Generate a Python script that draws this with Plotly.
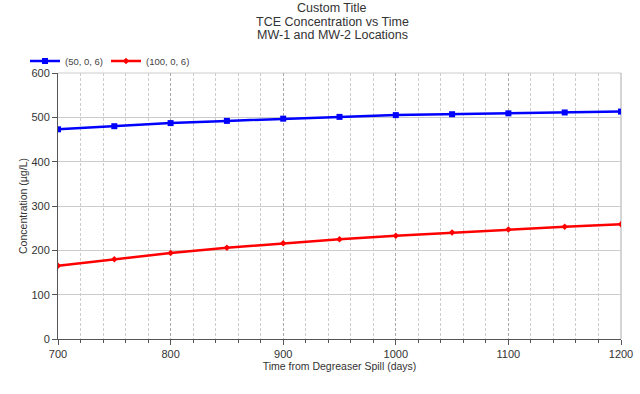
import plotly.graph_objects as go

time_days = [700, 750, 800, 850, 900, 950, 1000, 1050, 1100, 1150, 1200]
mw1_conc = [473, 480, 487, 492, 497, 501, 505, 507, 509, 511, 513]
mw2_conc = [165, 180, 194, 206, 216, 225, 233, 240, 247, 253, 259]
series_names = ["(50, 0, 6)", "(100, 0, 6)"]
x_ticks = [700, 800, 900, 1000, 1100, 1200]
y_ticks = [0, 100, 200, 300, 400, 500, 600]
title_lines = ["Custom Title", "TCE Concentration vs Time", "MW-1 and MW-2 Locations"]

W, H = 640, 394
ML, MR, MT, MB = 58, 19, 73, 55
PLOT_H = H - MT - MB
PLOT_W = W - ML - MR

fig = go.Figure()
fig.add_trace(go.Scatter(
    x=time_days, y=mw1_conc, name=series_names[0], mode="lines+markers",
    line=dict(color="#0000ff", width=2.5),
    marker=dict(symbol="square", size=6, color="#0000ff"), legend="legend"))
fig.add_trace(go.Scatter(
    x=time_days, y=mw2_conc, name=series_names[1], mode="lines+markers",
    line=dict(color="#ff0000", width=2.5),
    marker=dict(symbol="diamond", size=5, color="#ff0000"), legend="legend2"))

legend_common = dict(orientation="h", xanchor="left", yanchor="middle",
                     y=1 + (73 - 61) / PLOT_H,
                     font=dict(size=9.5, color="#444444"), itemwidth=30,
                     bgcolor="rgba(0,0,0,0)")

fig.update_layout(
    width=W, height=H,
    margin=dict(l=ML, r=MR, t=MT, b=MB, autoexpand=False),
    paper_bgcolor="white", plot_bgcolor="white",
    font=dict(family="Liberation Sans, Arial, sans-serif", size=11, color="#333333"),
    legend=dict(x=(25 - 58) / PLOT_W, **legend_common),
    legend2=dict(x=(106 - 58) / PLOT_W, **legend_common),
    showlegend=True,
)

for line_text, cy in zip(title_lines, [8, 21.5, 35]):
    fig.add_annotation(text=line_text, xref="paper", yref="paper",
                       x=(332 - 58) / PLOT_W, y=1 + (73 - cy) / PLOT_H,
                       xanchor="center", yanchor="middle", showarrow=False,
                       font=dict(size=12.5, color="#333333"))

fig.update_xaxes(
    range=[700, 1200], tickvals=x_ticks, automargin=False,
    showline=True, linecolor="#555555", linewidth=1, mirror=False,
    ticks="outside", ticklen=5, tickcolor="#555555",
    showgrid=True, gridcolor="#aaaaaa", griddash="3px,2px", gridwidth=1,
    minor=dict(dtick=20, showgrid=True, gridcolor="#cccccc", griddash="3px,2px",
               ticks="outside", ticklen=3, tickcolor="#555555"),
    zeroline=False,
    title=dict(text="Time from Degreaser Spill (days)", font=dict(size=10.5, color="#333333"), standoff=1),
    tickfont=dict(size=11, color="#333333"),
)
fig.update_yaxes(
    range=[0, 600], tickvals=y_ticks, automargin=False,
    showline=True, linecolor="#555555", linewidth=1,
    ticks="outside", ticklen=5, tickcolor="#555555",
    showgrid=True, gridcolor="#cccccc", gridwidth=1,
    zeroline=False,
    title=dict(text="Concentration (µg/L)", font=dict(size=10.5, color="#333333"), standoff=1),
    tickfont=dict(size=11, color="#333333"),
)

fig.add_shape(type="line", xref="paper", yref="paper", x0=0, x1=1, y0=1, y1=1,
              line=dict(color="#cccccc", width=1), layer="below")
fig.add_shape(type="line", xref="paper", yref="paper", x0=1, x1=1, y0=0, y1=1,
              line=dict(color="#aaaaaa", width=1), layer="below")

fig.write_html("out.html", config={"displayModeBar": False},
               post_script="document.body.style.margin='0px';document.body.style.overflow='hidden';")
